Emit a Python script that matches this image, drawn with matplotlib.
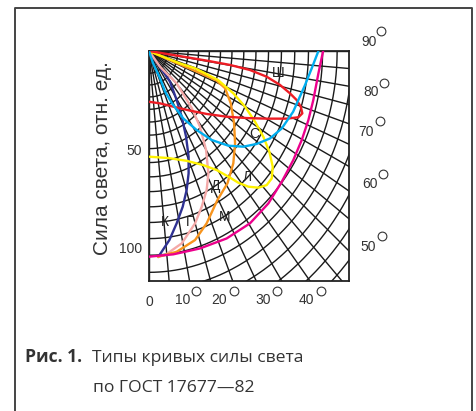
import numpy as np
import matplotlib.pyplot as plt
from matplotlib.lines import Line2D

plt.rcParams['font.family'] = ['Liberation Sans', 'DejaVu Sans']

W, H = 477, 411

# кривые силы света, отн. ед. (x - вправо, y - вниз от светильника)
k_x = [0, 4.8, 10.7, 14.1, 16.7, 18.9, 20.2, 20.2, 19.2, 17.2, 14.1, 10.4, 4.8]
k_y = [0, 7.1, 15.6, 25.0, 33.5, 43.7, 53.9, 62.4, 70.9, 79.4, 87.9, 96.4, 104.9]

g_x = [0, 5.6, 14.1, 21.8, 26.0, 29.1, 30.3, 29.4, 26.9, 23.5, 16.7, 8.2, 4.8]
g_y = [0, 8.0, 16.5, 29.1, 38.6, 50.5, 62.4, 70.9, 79.4, 87.9, 98.1, 104.1, 104.9]

d_x = [0, 12.4, 24.3, 34.5, 38.8, 41.7, 43.4, 43.9, 43.0, 40.0, 34.9, 29.4, 23.5, 14.1, 4.8]
d_y = [0, 5.4, 10.5, 15.1, 19.0, 26.7, 36.9, 47.1, 57.3, 67.5, 76.0, 87.9, 96.4, 102.4, 104.9]

l_x = [0, 7.1, 15.8, 23.5, 35.2, 43.0, 49.0, 54.1, 58.3, 61.4, 63.1, 62.6, 60.0, 55.8,
       50.7, 45.6, 40.5, 34.5, 27.7, 19.2, 9.9, 0]
l_y = [0, 2.9, 6.3, 8.8, 14.8, 21.6, 28.4, 36.1, 43.7, 51.4, 59.0, 65.0, 68.4, 69.7,
       69.2, 67.2, 64.1, 60.7, 58.2, 56.0, 54.6, 53.9]

sh_x = [0, 5.6, 12.4, 20.9, 29.4, 39.6, 49.8, 60.0, 70.2, 76.2, 78.2, 77.4, 75.3, 71.9,
        66.8, 60.0, 51.5, 41.3, 29.4, 17.5, 7.3, 0]
sh_y = [25.9, 26.7, 28.4, 30.4, 32.1, 33.5, 34.2, 34.5, 34.5, 33.8, 31.8, 28.4, 25.0, 21.6,
        17.3, 13.1, 9.7, 7.1, 4.9, 2.9, 1.2, 0]

s_x = [0, 2.0, 5.6, 8.2, 11.6, 17.5, 24.3, 32.0, 40.5, 48.1, 54.9, 61.7, 67.7, 73.5, 79.6, 83.0, 86.4]
s_y = [0, 6.1, 13.8, 20.7, 26.5, 34.4, 40.3, 45.4, 48.3, 48.8, 47.4, 44.6, 39.5, 31.0, 17.3, 8.8, 0]

m_x = [0, 12.4, 26.0, 39.6, 51.5, 60.9, 67.7, 73.6, 77.9, 81.3, 83.8, 86.4, 88.8]
m_y = [104.9, 103.7, 100.7, 95.6, 87.9, 77.7, 66.7, 55.6, 45.4, 35.2, 25.0, 11.4, 0]

names = ['К', 'Г', 'Д', 'Л', 'С', 'Ш', 'М']
name_x = [8.2, 20.9, 34.2, 50.2, 53.7, 66.0, 38.8]
name_y = [87.1, 87.1, 68.9, 64.5, 42.5, 11.4, 84.5]

bottom_deg = ['10', '20', '30', '40']
right_deg = ['90', '80', '70', '60', '50']

fig = plt.figure(figsize=(W / 100, H / 100), dpi=100)
ax = fig.add_axes([149 / W, 1 - 281 / H, 200 / W, 230 / H])
ax.set_xlim(0, 102)
ax.set_ylim(117.3, 0)

# сетка: лучи через 5 градусов и "окружности"
for t in np.radians(np.arange(0, 91, 5)):
    ax.plot([0, 300 * np.sin(t)], [0, 300 * np.cos(t)], color='#1a1a1a', lw=1.0, zorder=1)
tt = np.linspace(0, np.pi / 2, 200)
R = 5.6
while R < 180:
    r = R / np.sqrt((np.sin(tt) / 0.85) ** 2 + np.cos(tt) ** 2)
    ax.plot(r * np.sin(tt), r * np.cos(tt), color='#1a1a1a', lw=1.0, zorder=1)
    R += 5.6 + 0.03 * R

lw = 1.7
ax.plot(k_x, k_y, color='#2e3192', lw=lw, zorder=3)
ax.plot(g_x, g_y, color='#f4a9a8', lw=lw, zorder=3)
ax.plot(d_x, d_y, color='#f7941d', lw=lw, zorder=3)
ax.plot(l_x, l_y, color='#fff200', lw=lw, zorder=3)
ax.plot(sh_x, sh_y, color='#ed1c24', lw=lw, zorder=3)
ax.plot(s_x, s_y, color='#00aeef', lw=lw, zorder=3)
ax.plot(m_x, m_y, color='#ec008c', lw=lw, zorder=3)

for n, x, y in zip(names, name_x, name_y):
    ax.text(x, y, n, fontsize=10, color='#222222', ha='center', va='center', zorder=4)

for sp in ax.spines.values():
    sp.set_linewidth(1.3)
    sp.set_color('#222222')

ax.set_yticks([50, 100])
ax.set_xticks([0])
ax.set_xticklabels(['0'])
ax.tick_params(length=0, labelsize=10, colors='#333333')
ax.tick_params(axis='x', pad=10)
ax.tick_params(axis='y', pad=5)

fig.text(103 / W, 1 - 158 / H, 'Сила света, отн. ед.', rotation=90, fontsize=15,
         color='#333333', ha='center', va='center')


def deg(xc, yc, txt, ox, oy):
    fig.text(xc / W, 1 - yc / H, txt, fontsize=10, color='#333333', ha='center', va='center')
    fig.add_artist(Line2D([ox / W], [1 - oy / H], transform=fig.transFigure, marker='o',
                          markersize=6.3, markerfacecolor='none', markeredgecolor='#333333',
                          markeredgewidth=0.8))


for txt, xc, ox in zip(bottom_deg, [182.5, 219.5, 263, 306], [196, 234, 277.5, 321]):
    deg(xc, 300, txt, ox, 290.5)
for txt, xc, yc, ox, oy in zip(right_deg, [369, 371.5, 366.5, 370, 368.5],
                               [42, 92, 131.5, 183.5, 246.5],
                               [381, 384, 379.5, 383, 382], [31, 83, 121.5, 174.5, 236.5]):
    deg(xc, yc, txt, ox, oy)

# подпись
fig.text(25 / W, 1 - 362 / H, 'Рис. 1.', fontsize=12.6, fontweight='bold', family='Open Sans',
         color='#333333', va='baseline')
fig.text(92 / W, 1 - 362 / H, 'Типы кривых силы света', fontsize=12.6, family='Open Sans',
         color='#333333', va='baseline')
fig.text(93 / W, 1 - 392 / H, 'по ГОСТ 17677—82', fontsize=12.6, family='Open Sans',
         color='#333333', va='baseline')

# рамка
fig.add_artist(Line2D(np.array([15, 15, 472, 472]) / W, 1 - np.array([411, 8, 8, 411]) / H,
                      transform=fig.transFigure, color='#444444', lw=1.4))

fig.savefig('out.png', dpi=100)
